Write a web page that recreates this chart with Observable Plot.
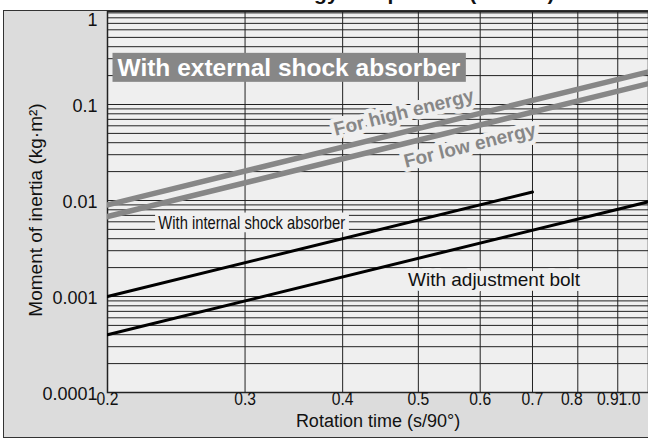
<!DOCTYPE html>
<html><head><meta charset="utf-8">
<script src="https://cdn.jsdelivr.net/npm/d3@7"></script>
<script src="https://cdn.jsdelivr.net/npm/@observablehq/plot@0.6"></script>
<style>
body{margin:0;background:#fff;}
#wrap{position:relative;width:648px;height:441px;overflow:hidden;font-family:"Liberation Sans",Arial,sans-serif;}
#title{position:absolute;left:0;width:648px;top:-19px;line-height:24px;text-align:center;font-weight:bold;font-size:21px;color:#111;}
#box{position:absolute;left:3px;top:10px;width:670px;height:426px;background:#dcdcdc;border:1.5px solid #333;}
#chart{position:absolute;left:0;top:0;}
</style></head>
<body><div id="wrap"><div id="title">Allowable kinetic energy comparison (Size 50)</div><div id="box"></div><div id="chart"></div></div>
<script>
// ---- data ----
const rotationTime = [0.2, 1.0];
const highEnergy = [0.009, 0.225];
const lowEnergy = [0.0068, 0.17];
const internalTime = [0.2, 0.7];
const internalShock = [0.001, 0.01225];
const adjustmentBolt = [0.0004, 0.01];

const xTicks = [0.2, 0.3, 0.4, 0.5, 0.6, 0.7, 0.8, 0.9, 1.0];
const xTickLabels = ["0.2", "0.3", "0.4", "0.5", "0.6", "0.7", "0.8", "0.9", "1.0"];
const yTicks = [1, 0.1, 0.01, 0.001, 0.0001];
const yTickLabels = ["1", "0.1", "0.01", "0.001", "0.0001"];

const labelNames = ["With external shock absorber", "For high energy", "For low energy", "With internal shock absorber", "With adjustment bolt"];
const labelX = [0.2, 0.479, 0.582, 0.306, 0.625];
const labelY = [0.24, 0.0826, 0.0374, 0.0058, 0.00148];

// ---- build ----
const yGrid = [];
for (let e = -4; e <= 0; e++) for (let k = 1; k <= 9; k++) yGrid.push(k * Math.pow(10, e));
const mk = (xs, ys) => xs.map((x, i) => ({x, y: ys[i]}));
const high = mk(rotationTime, highEnergy);
const low = mk(rotationTime, lowEnergy);
const internal = mk(internalTime, internalShock);
const bolt = mk(rotationTime, adjustmentBolt);
const xt = xTicks.map((v, i) => ({v, t: xTickLabels[i]}));
const yt = yTicks.map((v, i) => ({v, t: yTickLabels[i]}));
const labels = labelNames.map((t, i) => ({t, x: labelX[i], y: labelY[i]}));
const xShift = {"0.8": -6, "0.9": -10, "1.0": -24};

const font = "Liberation Sans, Arial, sans-serif";

const plot = Plot.plot({
  width: 648, height: 441,
  marginLeft: 107, marginRight: 0, marginTop: 11, marginBottom: 49,
  style: {background: "transparent", overflow: "visible"},
  x: {type: "log", domain: [0.2, 1.0], range: [107, 653], axis: null},
  y: {type: "log", domain: [1e-4, 1], range: [392, 8], axis: null},
  marks: [
    Plot.frame({fill: "#efefef"}),
    Plot.ruleY(yGrid, {y: d => d, stroke: "#222", strokeWidth: 1, clip: true}),
    Plot.ruleX(xTicks, {x: d => d, stroke: "#222", strokeWidth: 1, clip: true}),
    Plot.frame({stroke: "#222", strokeWidth: 1.5}),
    Plot.line(high, {x: "x", y: "y", stroke: "#878787", strokeWidth: 5.5, clip: true}),
    Plot.line(low, {x: "x", y: "y", stroke: "#878787", strokeWidth: 5.5, clip: true}),
    Plot.line(internal, {x: "x", y: "y", stroke: "#000", strokeWidth: 3, clip: true}),
    Plot.line(bolt, {x: "x", y: "y", stroke: "#000", strokeWidth: 3, clip: true}),
    // y tick labels
    Plot.text(yt.filter(d => d.v !== 1), {y: "v", text: "t", frameAnchor: "left", dx: -10, dy: 2, textAnchor: "end", fontSize: 18, fontFamily: font, fill: "#111"}),
    Plot.text(yt.filter(d => d.v === 1), {y: "v", text: "t", frameAnchor: "left", dx: -10, dy: 12, textAnchor: "end", fontSize: 18, fontFamily: font, fill: "#111"}),
    // x tick labels
    Plot.text(xt, {x: "v", text: "t", frameAnchor: "bottom", dy: 12, textAnchor: "middle", fontSize: 18, fontFamily: font, fill: "#111"}),
    // axis titles
    Plot.text(["Rotation time (s/90°)"], {text: d => d, frameAnchor: "bottom", dy: 34, textAnchor: "middle", fontSize: 18, fontFamily: font, fill: "#111"}),
    Plot.text(["Moment of inertia (kg·m²)"], {text: d => d, frameAnchor: "left", textAnchor: "middle", rotate: -90, dx: -72, dy: 8, fontSize: 19, fontFamily: font, fill: "#111"}),
    // annotations
    Plot.text(labels.slice(0, 1), {x: "x", y: "y", text: "t", textAnchor: "start", dx: 10, fontSize: 24.5, fontWeight: "bold", fontFamily: font, fill: "#fff"}),
    Plot.text(labels.slice(1, 3), {x: "x", y: "y", text: "t", rotate: -14, fontSize: 19, fontWeight: "bold", fontFamily: font, fill: "#878787", stroke: "#efefef", strokeWidth: 9, paintOrder: "stroke"}),
    Plot.text(labels.slice(3, 4), {x: "x", y: "y", text: "t", fontSize: 18, fontFamily: font, fill: "#111"}),
    Plot.text(labels.slice(4, 5), {x: "x", y: "y", text: "t", fontSize: 19, fontFamily: font, fill: "#111", stroke: "#efefef", strokeWidth: 10, paintOrder: "stroke"})
  ]
});
document.getElementById("chart").appendChild(plot);

// condensed look for x tick labels and the internal label, plus crowded tick shifts
const narrowSet = new Set([...xTickLabels, "With internal shock absorber"]);
d3.select(plot).selectAll("text").each(function() {
  const txt = this.textContent;
  if (!narrowSet.has(txt)) return;
  let tr = this.getAttribute("transform") || "";
  const s = xShift[txt];
  if (s !== undefined) tr = tr.replace(/translate\(([-\d.]+)/, (m, a) => `translate(${+a + s}`);
  const k = txt.length > 4 ? 0.82 : 0.87;
  this.setAttribute("transform", tr + ` scale(${k},1)`);
});

function boxBehind(str, fill, padX, padY) {
  d3.select(plot).selectAll("text").filter(function() { return this.textContent === str; }).each(function() {
    const b = this.getBBox();
    const r = document.createElementNS("http://www.w3.org/2000/svg", "rect");
    r.setAttribute("x", b.x - padX);
    r.setAttribute("y", b.y - padY);
    r.setAttribute("width", b.width + 2 * padX);
    r.setAttribute("height", b.height + 2 * padY);
    r.setAttribute("fill", fill);
    if (this.getAttribute("transform")) r.setAttribute("transform", this.getAttribute("transform"));
    this.parentNode.insertBefore(r, this);
  });
}
boxBehind("With external shock absorber", "#878787", 5, 1);
boxBehind("With internal shock absorber", "#efefef", 4, 0);
</script>
</body></html>
